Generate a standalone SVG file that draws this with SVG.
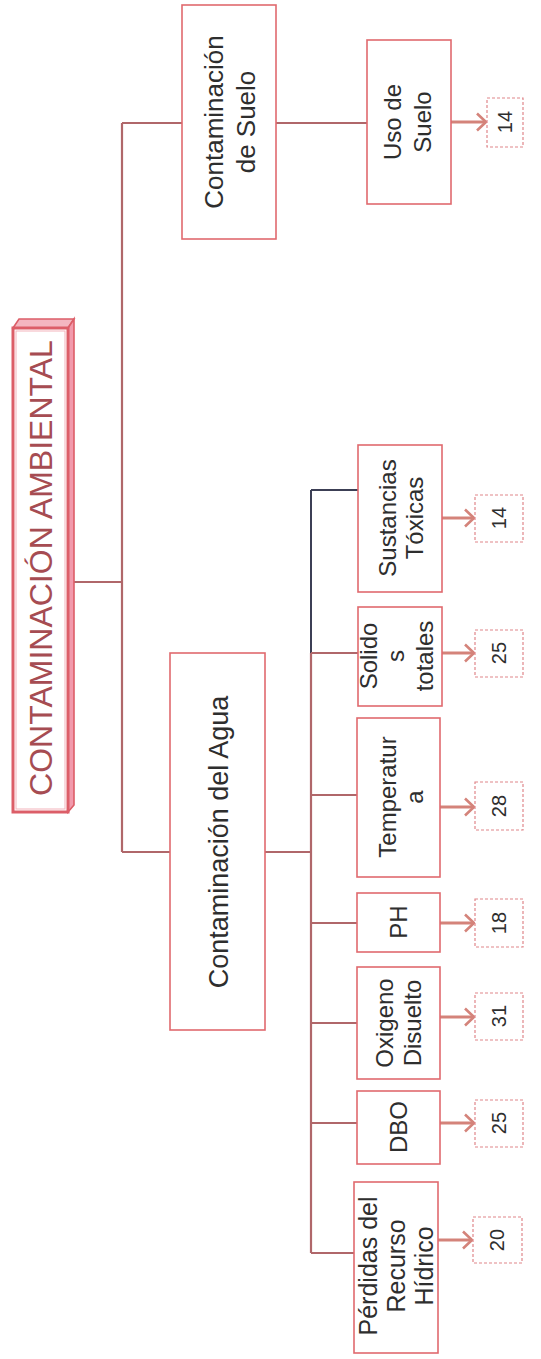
<svg xmlns="http://www.w3.org/2000/svg" width="541" height="1359" viewBox="0 0 541 1359">
  <style>
    .box { fill: #ffffff; stroke: #e06a6e; stroke-width: 1.6; }
    .num { fill: #ffffff; stroke: #e0868a; stroke-width: 1.2; stroke-dasharray: 3 2; }
    .link { fill: none; stroke: #b0676a; stroke-width: 2.2; }
    .dark { fill: none; stroke: #3c3f55; stroke-width: 2; }
    .arrow { fill: none; stroke: #d4837a; stroke-width: 3; marker-end: url(#chev); }
    .lbl { font-family: "Liberation Sans", Arial, sans-serif; fill: #2e2e2e; text-anchor: middle; }
    .nlbl { font-family: "Liberation Sans", Arial, sans-serif; fill: #2e2e2e; text-anchor: middle; font-size: 20px; }
    .root { font-family: "Liberation Sans", Arial, sans-serif; fill: #a64c52; text-anchor: middle; font-size: 32px; }
  </style>
  <defs>
    <marker id="chev" viewBox="0 0 12 20" markerWidth="12" markerHeight="20" refX="10" refY="10" markerUnits="userSpaceOnUse" orient="auto">
      <path d="M1,1.5 L10,10 L1,18.5" fill="none" stroke="#d4837a" stroke-width="2.6"/>
    </marker>
  </defs>
  <rect width="541" height="1359" fill="#ffffff"/>

  <!-- connectors -->
  <g id="connectors">
    <path class="link" d="M74,582 H122"/>
    <path class="link" d="M122,123 V852"/>
    <path class="link" d="M122,123 H182"/>
    <path class="link" d="M276,123 H367"/>
    <path class="link" d="M122,852 H170"/>
    <path class="link" d="M265,852 H311"/>
    <path class="dark" d="M311,490 V655"/>
    <path class="dark" d="M311,490 H358"/>
    <path class="link" d="M311,653 V1253"/>
    <path class="link" d="M311,653 H358"/>
    <path class="link" d="M311,795 H357"/>
    <path class="link" d="M311,923 H357"/>
    <path class="link" d="M311,1023 H357"/>
    <path class="link" d="M311,1123 H357"/>
    <path class="link" d="M311,1253 H354"/>
    <path class="arrow" d="M451,122 H486"/>
    <path class="arrow" d="M442,518 H474"/>
    <path class="arrow" d="M442,653 H474"/>
    <path class="arrow" d="M440,807 H474"/>
    <path class="arrow" d="M440,923 H474"/>
    <path class="arrow" d="M440,1017 H474"/>
    <path class="arrow" d="M440,1123 H474"/>
    <path class="arrow" d="M438,1240 H472"/>
  </g>

  <!-- root node: raised box with top and side faces -->
  <g id="root">
    <polygon points="13,328 19,319 74,319 68,328" fill="#f4b6c0" stroke="#dc5e68" stroke-width="1.6"/>
    <polygon points="68,328 74,319 74,805 68,812" fill="#f29aac" stroke="#dc5e68" stroke-width="1.6"/>
    <rect x="13" y="328" width="55" height="484" fill="#ffffff" stroke="#dc5e68" stroke-width="3"/>
    <rect x="16" y="331" width="49" height="478" fill="none" stroke="#f3b3bb" stroke-width="1"/>
    <text class="root" transform="translate(0,568) rotate(-90)" x="0" y="52">CONTAMINACIÓN AMBIENTAL</text>
  </g>

  <g id="suelo">
    <rect class="box" x="182" y="5" width="94" height="234"/>
    <text class="lbl" font-size="26" transform="translate(0,122) rotate(-90)"><tspan x="0" y="223">Contaminación</tspan><tspan x="0" y="255">de Suelo</tspan></text>
  </g>

  <g id="uso-suelo">
    <rect class="box" x="367" y="40" width="84" height="164"/>
    <text class="lbl" font-size="24" transform="translate(0,122) rotate(-90)"><tspan x="0" y="401">Uso de</tspan><tspan x="0" y="431">Suelo</tspan></text>
  </g>
  <g id="v-uso-suelo">
    <rect class="num" x="487" y="98" width="36" height="49"/>
    <text class="nlbl" transform="translate(0,122) rotate(-90)" x="0" y="512">14</text>
  </g>

  <g id="agua">
    <rect class="box" x="170" y="653" width="95" height="377"/>
    <text class="lbl" font-size="27" transform="translate(0,842) rotate(-90)" x="0" y="228">Contaminación del Agua</text>
  </g>

  <g id="sustancias">
    <rect class="box" x="358" y="445" width="84" height="147"/>
    <text class="lbl" font-size="24" transform="translate(0,518) rotate(-90)"><tspan x="0" y="396">Sustancias</tspan><tspan x="0" y="423">Tóxicas</tspan></text>
  </g>
  <g id="v-sustancias">
    <rect class="num" x="475" y="495" width="48" height="47"/>
    <text class="nlbl" transform="translate(0,518) rotate(-90)" x="0" y="506">14</text>
  </g>

  <g id="solidos">
    <rect class="box" x="358" y="607" width="84" height="99"/>
    <text class="lbl" font-size="24" transform="translate(0,656) rotate(-90)"><tspan x="0" y="377">Solido</tspan><tspan x="0" y="404">s</tspan><tspan x="0" y="433">totales</tspan></text>
  </g>
  <g id="v-solidos">
    <rect class="num" x="475" y="630" width="48" height="47"/>
    <text class="nlbl" transform="translate(0,653) rotate(-90)" x="0" y="506">25</text>
  </g>

  <g id="temperatura">
    <rect class="box" x="357" y="718" width="83" height="159"/>
    <text class="lbl" font-size="24" transform="translate(0,797) rotate(-90)"><tspan x="0" y="396">Temperatur</tspan><tspan x="0" y="423">a</tspan></text>
  </g>
  <g id="v-temperatura">
    <rect class="num" x="475" y="782" width="48" height="48"/>
    <text class="nlbl" transform="translate(0,806) rotate(-90)" x="0" y="506">28</text>
  </g>

  <g id="ph">
    <rect class="box" x="357" y="893" width="83" height="59"/>
    <text class="lbl" font-size="24" transform="translate(0,922) rotate(-90)" x="0" y="407">PH</text>
  </g>
  <g id="v-ph">
    <rect class="num" x="475" y="899" width="48" height="48"/>
    <text class="nlbl" transform="translate(0,923) rotate(-90)" x="0" y="506">18</text>
  </g>

  <g id="oxigeno">
    <rect class="box" x="357" y="967" width="83" height="112"/>
    <text class="lbl" font-size="24" transform="translate(0,1023) rotate(-90)"><tspan x="0" y="393">Oxigeno</tspan><tspan x="0" y="421">Disuelto</tspan></text>
  </g>
  <g id="v-oxigeno">
    <rect class="num" x="475" y="993" width="48" height="47"/>
    <text class="nlbl" transform="translate(0,1016) rotate(-90)" x="0" y="506">31</text>
  </g>

  <g id="dbo">
    <rect class="box" x="357" y="1091" width="83" height="73"/>
    <text class="lbl" font-size="24" transform="translate(0,1127) rotate(-90)" x="0" y="407">DBO</text>
  </g>
  <g id="v-dbo">
    <rect class="num" x="475" y="1100" width="48" height="47"/>
    <text class="nlbl" transform="translate(0,1123) rotate(-90)" x="0" y="506">25</text>
  </g>

  <g id="perdidas">
    <rect class="box" x="354" y="1182" width="84" height="171"/>
    <text class="lbl" font-size="25" transform="translate(0,1266) rotate(-90)"><tspan x="0" y="377">Pérdidas del</tspan><tspan x="0" y="405">Recurso</tspan><tspan x="0" y="433">Hídrico</tspan></text>
  </g>
  <g id="v-perdidas">
    <rect class="num" x="473" y="1217" width="49" height="46"/>
    <text class="nlbl" transform="translate(0,1240) rotate(-90)" x="0" y="504">20</text>
  </g>
</svg>
